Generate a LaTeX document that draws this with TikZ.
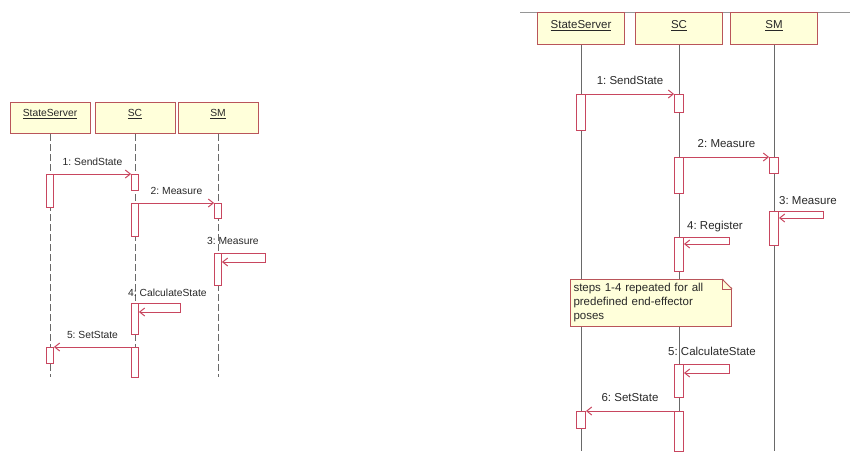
\documentclass[tikz,border=0pt]{standalone}
\usepackage{fontspec}
\setmainfont{Liberation Sans}
\usetikzlibrary{arrows.meta,calc}
\frenchspacing

\definecolor{msgred}{RGB}{200,70,95}
\definecolor{boxred}{RGB}{185,85,90}
\definecolor{boxfill}{RGB}{255,255,218}
\definecolor{lifegray}{RGB}{105,105,105}
\definecolor{txtgray}{RGB}{40,40,40}

\begin{document}
\begin{tikzpicture}[x=1pt,y=1pt,yscale=-1,
    fontL/.style={font=\fontsize{10.3}{12.4}\selectfont},
    fontR/.style={font=\fontsize{11.5}{14}\selectfont},
    obj/.style={draw=boxred,fill=boxfill,line width=1pt,anchor=north,inner xsep=2pt,inner ysep=3pt,text=txtgray},
    objL/.style={obj,fontL,minimum width=80,text height=11pt,text depth=14pt},
    objR/.style={obj,fontR,minimum width=87,text height=13pt,text depth=13pt},
    lifeL/.style={lifegray,line width=0.7pt,dash pattern=on 7pt off 3pt},
    lifeR/.style={lifegray,line width=0.9pt},
    actL/.style={draw=msgred,fill=white,line width=0.8pt,anchor=north,inner sep=0pt,minimum width=7},
    actR/.style={draw=msgred,fill=white,line width=0.9pt,anchor=north,inner sep=0pt,minimum width=9},
    msg/.style={msgred,line width=1pt,-{Straight Barb[length=5pt,width=8pt]}},
    lblL/.style={midway,anchor=south,inner xsep=0pt,inner ysep=8pt,text height=7.4pt,text depth=0pt,text=txtgray,fontL},
    lblR/.style={midway,anchor=south,inner xsep=0pt,inner ysep=9pt,text height=8.2pt,text depth=0pt,text=txtgray,fontR},
    selfL/.style={anchor=base west,inner sep=0pt,text=txtgray,fontL},
    selfR/.style={anchor=base west,inner sep=0pt,text=txtgray,fontR},
    notebox/.style={draw=boxred,fill=boxfill,line width=1pt,anchor=north west,align=left,text width=155,inner xsep=3pt,inner ysep=0pt,minimum height=47,text=txtgray,fontR}]
\useasboundingbox (0,0) rectangle (850,451);

% left diagram
\node[objL] (ssL) at (50,102) {\underline{StateServer}};
\node[objL] (scL) at (135,102) {\underline{SC}};
\node[objL] (smL) at (218,102) {\underline{SM}};
\coordinate (bottomL) at (0,377);
\draw[lifeL] (ssL) -- (ssL |- bottomL);
\draw[lifeL] (scL) -- (scL |- bottomL);
\draw[lifeL] (smL) -- (smL |- bottomL);

\node[actL,minimum height=33] (ssL1) at (50,174) {};
\node[actL,minimum height=16] (scL1) at (135,174) {};
\node[actL,minimum height=33] (scL2) at (135,203) {};
\node[actL,minimum height=15] (smL1) at (218,203) {};
\node[actL,minimum height=32] (smL2) at (218,253) {};
\node[actL,minimum height=31] (scL3) at (135,303) {};
\node[actL,minimum height=16] (ssL2) at (50,347) {};
\node[actL,minimum height=30] (scL4) at (135,347) {};

\coordinate (m3L) at (265,262);
\coordinate (m4L) at (180,312);

\draw[msg] (ssL1.north east) -- node[lblL] {1: SendState} (scL1.north west);
\draw[msg] (scL2.north east) -- node[lblL] {2: Measure} (smL1.north west);
\draw[msg] (smL2.north east) -| (m3L) -- (m3L -| smL2.east);
\node[selfL] (t3L) at (207,244) {3: Measure};
\draw[msg] (scL3.north east) -| (m4L) -- (m4L -| scL3.east);
\node[selfL] (t4L) at (128,296) {4: CalculateState};
\draw[msg] (scL4.north west) -- node[lblL] {5: SetState} (ssL2.north east);

% right diagram
\draw[lifegray!70,line width=0.8pt] (520,12) -- (850,12);
\node[objR] (ssR) at (581,12) {\underline{StateServer}};
\node[objR] (scR) at (679,12) {\underline{SC}};
\node[objR] (smR) at (774,12) {\underline{SM}};
\coordinate (bottomR) at (0,451);
\draw[lifeR] (ssR) -- (ssR |- bottomR);
\draw[lifeR] (scR) -- (scR |- bottomR);
\draw[lifeR] (smR) -- (smR |- bottomR);

\node[actR,minimum height=36] (ssR1) at (581,94) {};
\node[actR,minimum height=18] (scR1) at (679,94) {};
\node[actR,minimum height=36] (scR2) at (679,157) {};
\node[actR,minimum height=16] (smR1) at (774,157) {};
\node[actR,minimum height=34] (smR2) at (774,211) {};
\node[actR,minimum height=34] (scR3) at (679,237) {};
\node[actR,minimum height=33] (scR4) at (679,364) {};
\node[actR,minimum height=17] (ssR2) at (581,411) {};
\node[actR,minimum height=40] (scR5) at (679,411) {};

\coordinate (m3R) at (823,218);
\coordinate (m4R) at (729,244);
\coordinate (m5R) at (729,373);

\draw[msg] (ssR1.north east) -- node[lblR] {1: SendState} (scR1.north west);
\draw[msg] (scR2.north east) -- node[lblR] {2: Measure} (smR1.north west);
\draw[msg] (smR2.north east) -| (m3R) -- (m3R -| smR2.east);
\node[selfR] (t3R) at (779,204) {3: Measure};
\draw[msg] (scR3.north east) -| (m4R) -- (m4R -| scR3.east);
\node[selfR] (t4R) at (687,229) {4: Register};

\node[notebox] (note) at (570,279) {steps 1-4 repeated for all\\predefined end-effector\\poses};
\fill[white] ($(note.north east)+(-10,-1)$) -- ($(note.north east)+(1,-1)$) -- ($(note.north east)+(1,10)$) -- cycle;
\draw[boxred,line width=1pt] ($(note.north east)+(-10,0)$) -- ($(note.north east)+(0,10)$);
\draw[boxred,line width=0.6pt] ($(note.north east)+(-10,0)$) -- ($(note.north east)+(-10,10)$) -- ($(note.north east)+(0,10)$);

\draw[msg] (scR4.north east) -| (m5R) -- (m5R -| scR4.east);
\node[selfR] (t5R) at (668,355) {5: CalculateState};
\draw[msg] (scR5.north west) -- node[lblR] {6: SetState} (ssR2.north east);
\end{tikzpicture}
\end{document}
